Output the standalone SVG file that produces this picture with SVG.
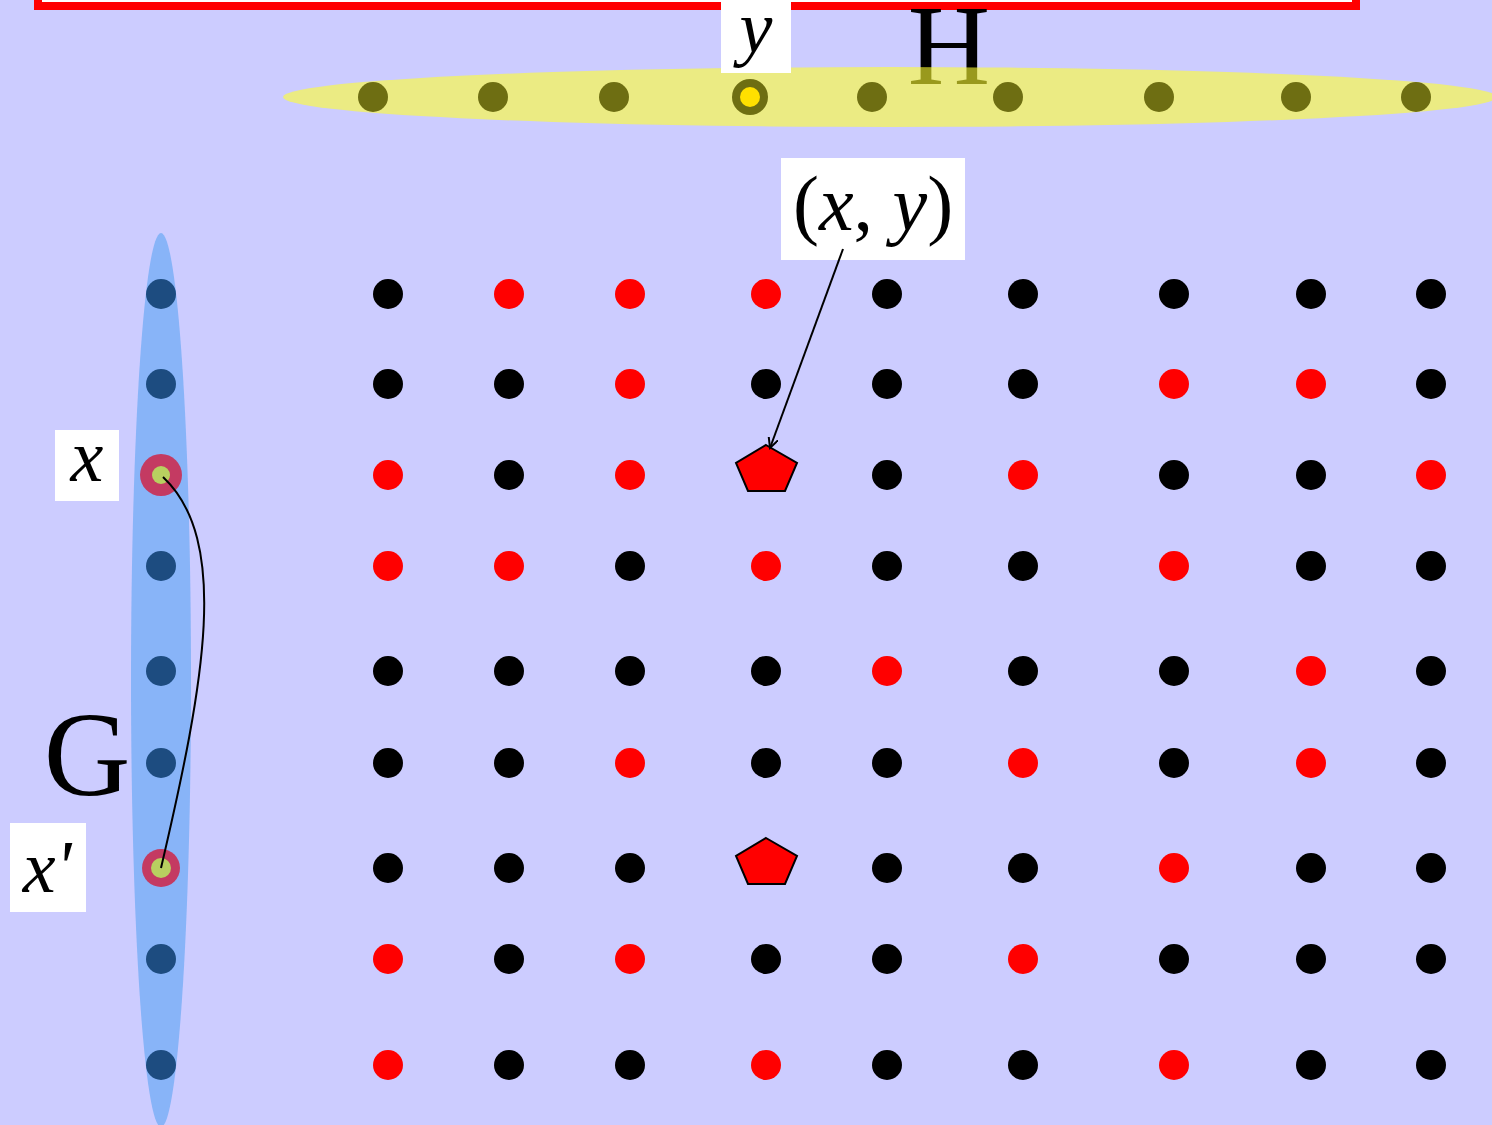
<svg xmlns="http://www.w3.org/2000/svg" width="1492" height="1125" viewBox="0 0 1492 1125">
<defs>
<style>
.t{font-family:"Liberation Serif","Times New Roman",serif;fill:#000}
.i{font-style:italic}
.b{fill:#000}
.r{fill:#ff0000}
.o{fill:#6e6e12}
.bl{fill:#1d4c80}
.lbl{fill:#fff}
</style>
<marker id="ah" markerWidth="12" markerHeight="12" refX="10" refY="5" orient="auto" markerUnits="userSpaceOnUse">
<path d="M0,0 L10,5 L0,10" fill="none" stroke="#000" stroke-width="2"/>
</marker>
</defs>
<rect x="0" y="0" width="1492" height="1125" fill="#ccccff"/>
<g id="title-box"><rect x="38" y="-30" width="1318" height="36" fill="#fff" stroke="#ff0000" stroke-width="8"/></g>
<g id="H-label"><text class="t" x="949" y="84" font-size="114" text-anchor="middle">H</text></g>
<g id="H-set">
<ellipse cx="890" cy="97" rx="607" ry="30" fill="#ffff30" fill-opacity="0.6"/>
<circle class="o" cx="373" cy="97" r="15"/>
<circle class="o" cx="493" cy="97" r="15"/>
<circle class="o" cx="614" cy="97" r="15"/>
<circle class="o" cx="750" cy="97" r="18"/>
<circle cx="750" cy="97" r="10" fill="#ffe000"/>
<circle class="o" cx="872" cy="97" r="15"/>
<circle class="o" cx="1008" cy="97" r="15"/>
<circle class="o" cx="1159" cy="97" r="15"/>
<circle class="o" cx="1296" cy="97" r="15"/>
<circle class="o" cx="1416" cy="97" r="15"/>
</g>
<g id="y-label"><rect class="lbl" x="721" y="0" width="70" height="73"/><text class="t i" x="756" y="52" font-size="74" text-anchor="middle">y</text></g>
<g id="G-set">
<ellipse cx="161" cy="680" rx="30" ry="447" fill="#88b4f8"/>
<circle class="bl" cx="161" cy="294" r="15"/>
<circle class="bl" cx="161" cy="384" r="15"/>
<circle cx="161" cy="475" r="21" fill="#c43a62"/>
<circle cx="161" cy="475" r="9" fill="#b8d060"/>
<circle class="bl" cx="161" cy="566" r="15"/>
<circle class="bl" cx="161" cy="671" r="15"/>
<circle class="bl" cx="161" cy="763" r="15"/>
<circle cx="161" cy="868" r="19" fill="#c43a62"/>
<circle cx="161" cy="868" r="10" fill="#b8d060"/>
<circle class="bl" cx="161" cy="959" r="15"/>
<circle class="bl" cx="161" cy="1065" r="15"/>
</g>
<g id="G-label"><text class="t" x="87" y="795" font-size="120" text-anchor="middle">G</text></g>
<g id="x-label"><rect class="lbl" x="55" y="430" width="64" height="71"/><text class="t i" x="87" y="481" font-size="74" text-anchor="middle">x</text></g>
<g id="xprime-label"><rect class="lbl" x="10" y="823" width="76" height="89"/><text class="t i" x="47" y="892" font-size="74" text-anchor="middle">x'</text></g>
<g id="grid">
<circle class="b" cx="388" cy="294" r="15"/><circle class="r" cx="509" cy="294" r="15"/><circle class="r" cx="630" cy="294" r="15"/><circle class="r" cx="766" cy="294" r="15"/><circle class="b" cx="887" cy="294" r="15"/><circle class="b" cx="1023" cy="294" r="15"/><circle class="b" cx="1174" cy="294" r="15"/><circle class="b" cx="1311" cy="294" r="15"/><circle class="b" cx="1431" cy="294" r="15"/>
<circle class="b" cx="388" cy="384" r="15"/><circle class="b" cx="509" cy="384" r="15"/><circle class="r" cx="630" cy="384" r="15"/><circle class="b" cx="766" cy="384" r="15"/><circle class="b" cx="887" cy="384" r="15"/><circle class="b" cx="1023" cy="384" r="15"/><circle class="r" cx="1174" cy="384" r="15"/><circle class="r" cx="1311" cy="384" r="15"/><circle class="b" cx="1431" cy="384" r="15"/>
<circle class="r" cx="388" cy="475" r="15"/><circle class="b" cx="509" cy="475" r="15"/><circle class="r" cx="630" cy="475" r="15"/><circle class="b" cx="887" cy="475" r="15"/><circle class="r" cx="1023" cy="475" r="15"/><circle class="b" cx="1174" cy="475" r="15"/><circle class="b" cx="1311" cy="475" r="15"/><circle class="r" cx="1431" cy="475" r="15"/>
<circle class="r" cx="388" cy="566" r="15"/><circle class="r" cx="509" cy="566" r="15"/><circle class="b" cx="630" cy="566" r="15"/><circle class="r" cx="766" cy="566" r="15"/><circle class="b" cx="887" cy="566" r="15"/><circle class="b" cx="1023" cy="566" r="15"/><circle class="r" cx="1174" cy="566" r="15"/><circle class="b" cx="1311" cy="566" r="15"/><circle class="b" cx="1431" cy="566" r="15"/>
<circle class="b" cx="388" cy="671" r="15"/><circle class="b" cx="509" cy="671" r="15"/><circle class="b" cx="630" cy="671" r="15"/><circle class="b" cx="766" cy="671" r="15"/><circle class="r" cx="887" cy="671" r="15"/><circle class="b" cx="1023" cy="671" r="15"/><circle class="b" cx="1174" cy="671" r="15"/><circle class="r" cx="1311" cy="671" r="15"/><circle class="b" cx="1431" cy="671" r="15"/>
<circle class="b" cx="388" cy="763" r="15"/><circle class="b" cx="509" cy="763" r="15"/><circle class="r" cx="630" cy="763" r="15"/><circle class="b" cx="766" cy="763" r="15"/><circle class="b" cx="887" cy="763" r="15"/><circle class="r" cx="1023" cy="763" r="15"/><circle class="b" cx="1174" cy="763" r="15"/><circle class="r" cx="1311" cy="763" r="15"/><circle class="b" cx="1431" cy="763" r="15"/>
<circle class="b" cx="388" cy="868" r="15"/><circle class="b" cx="509" cy="868" r="15"/><circle class="b" cx="630" cy="868" r="15"/><circle class="b" cx="887" cy="868" r="15"/><circle class="b" cx="1023" cy="868" r="15"/><circle class="r" cx="1174" cy="868" r="15"/><circle class="b" cx="1311" cy="868" r="15"/><circle class="b" cx="1431" cy="868" r="15"/>
<circle class="r" cx="388" cy="959" r="15"/><circle class="b" cx="509" cy="959" r="15"/><circle class="r" cx="630" cy="959" r="15"/><circle class="b" cx="766" cy="959" r="15"/><circle class="b" cx="887" cy="959" r="15"/><circle class="r" cx="1023" cy="959" r="15"/><circle class="b" cx="1174" cy="959" r="15"/><circle class="b" cx="1311" cy="959" r="15"/><circle class="b" cx="1431" cy="959" r="15"/>
<circle class="r" cx="388" cy="1065" r="15"/><circle class="b" cx="509" cy="1065" r="15"/><circle class="b" cx="630" cy="1065" r="15"/><circle class="r" cx="766" cy="1065" r="15"/><circle class="b" cx="887" cy="1065" r="15"/><circle class="b" cx="1023" cy="1065" r="15"/><circle class="r" cx="1174" cy="1065" r="15"/><circle class="b" cx="1311" cy="1065" r="15"/><circle class="b" cx="1431" cy="1065" r="15"/>
</g>
<g id="pentagon-xy"><polygon points="766,445 797,463 785,491 748,491 736,463" fill="#ff0000" stroke="#000" stroke-width="2"/></g>
<g id="pentagon-xprime"><polygon points="766,838 797,856 785,884 748,884 736,856" fill="#ff0000" stroke="#000" stroke-width="2"/></g>
<g id="xy-label"><rect class="lbl" x="781" y="158" width="184" height="102"/><text class="t" x="873" y="230" font-size="78" text-anchor="middle">(<tspan class="i">x</tspan>, <tspan class="i">y</tspan>)</text></g>
<g id="connectors">
<path d="M843,249 L770,448" fill="none" stroke="#000" stroke-width="2" marker-end="url(#ah)"/>
<path d="M163,477 C230,540 205,680 161,868" fill="none" stroke="#000" stroke-width="2"/>
</g>
</svg>
